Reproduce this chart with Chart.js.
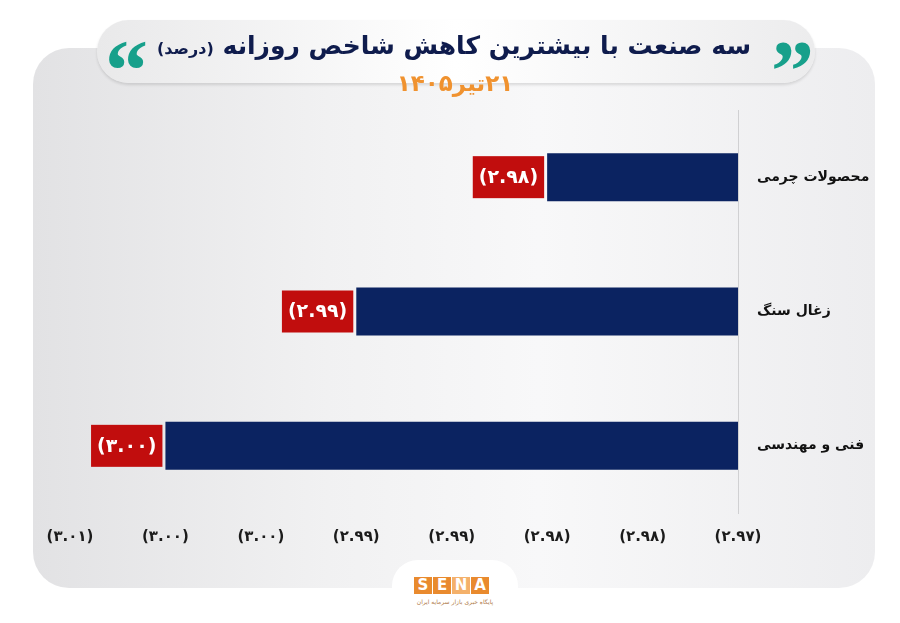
<!DOCTYPE html>
<html lang="fa">
<head>
<meta charset="utf-8">
<title>سه صنعت با بیشترین کاهش شاخص روزانه</title>
<script src="https://cdn.jsdelivr.net/npm/chart.js@4.4.1/dist/chart.umd.min.js"></script>
<style>
  html, body { margin: 0; padding: 0; background: #ffffff; }
  #page { position: relative; width: 900px; height: 623px; overflow: hidden; font-family: "DejaVu Sans", sans-serif; }
  #card {
    position: absolute; left: 33px; top: 48px; width: 842px; height: 540px;
    border-radius: 36px;
    background: linear-gradient(90deg, #e2e2e4 0%, #f1f1f2 35%, #f8f8f9 60%, #ededef 100%);
  }
  #chartBox { position: absolute; left: 0; top: 0; width: 900px; height: 623px; z-index: 1; }
  #titlePill {
    position: absolute; left: 97px; top: 20px; width: 718px; height: 63px; z-index: 2;
    border-radius: 32px;
    background: linear-gradient(90deg, #e9e9ea 0%, #ffffff 50%, #ececed 100%);
    box-shadow: 0 2px 3px rgba(0,0,0,0.12);
  }
  #title {
    position: absolute; left: 150px; width: 608px; top: 31px; z-index: 3;
    direction: rtl; text-align: center; white-space: nowrap;
    font-weight: bold; font-size: 25px; color: #0f1c4d;
  }
  #title small { font-size: 16px; font-weight: bold; }
  #date {
    position: absolute; left: 300px; width: 310px; top: 70px; z-index: 3;
    direction: rtl; text-align: center; font-weight: bold; font-size: 23px; color: #f0922f;
  }
  .quote {
    position: absolute; z-index: 3; font-family: "Liberation Serif", serif; font-weight: bold;
    font-size: 86px; line-height: 86px; color: #17a08b; top: 28px;
  }
  #qLeft { left: 105px; }
  #qRight { left: 771px; }
  #logoTab {
    position: absolute; left: 392px; top: 560px; width: 126px; height: 70px; z-index: 2;
    background: #ffffff; border-radius: 26px 26px 0 0;
  }
  #sena { position: absolute; left: 22px; top: 17px; display: flex; gap: 1px; }
  #sena span {
    width: 18px; height: 17px; background: #e98a2e; color: #fff;
    font: bold 15px "DejaVu Sans", sans-serif; text-align: center; line-height: 17px;
  }
  #sena span.light { background: #f4b16b; }
  #senaSub {
    position: absolute; left: 10px; width: 106px; top: 38px; direction: rtl; text-align: center;
    font-size: 6px; color: #b07a4a;
  }
</style>
</head>
<body>
<div id="page">
  <div id="card"></div>
  <div id="chartBox"><canvas id="chart"></canvas></div>
  <div id="titlePill"></div>
  <div class="quote" id="qLeft">&ldquo;</div>
  <div class="quote" id="qRight">&rdquo;</div>
  <div id="title">سه صنعت با بیشترین کاهش شاخص روزانه <small>(درصد)</small></div>
  <div id="date">۲۱تیر۱۴۰۵</div>
  <div id="logoTab">
    <div id="sena"><span>S</span><span>E</span><span class="light">N</span><span>A</span></div>
    <div id="senaSub">پایگاه خبری بازار سرمایه ایران</div>
  </div>
</div>
<script>
// داده‌ها
const industries = ['محصولات چرمی', 'زغال سنگ', 'فنی و مهندسی'];
const changes = [-2.98, -2.99, -3.00];
const tickLabels = ['(۳.۰۱)', '(۳.۰۰)', '(۳.۰۰)', '(۲.۹۹)', '(۲.۹۹)', '(۲.۹۸)', '(۲.۹۸)', '(۲.۹۷)'];
const xMin = -3.005;
const xMax = -2.97;
const xStep = 0.005;

const faDigits = '۰۱۲۳۴۵۶۷۸۹';
const toFa = s => s.replace(/[0-9]/g, d => faDigits[d]);

// برچسب قرمز کنار هر میله
const valueBoxes = {
    id: 'valueBoxes',
    afterDatasetsDraw(chart) {
        const ctx = chart.ctx;
        const meta = chart.getDatasetMeta(0);
        ctx.save();
        ctx.font = 'bold 19px "DejaVu Sans", sans-serif';
        ctx.textAlign = 'center';
        ctx.textBaseline = 'middle';
        meta.data.forEach((bar, i) => {
            const text = '(' + toFa(Math.abs(changes[i]).toFixed(2)) + ')';
            const w = ctx.measureText(text).width + 12;
            const h = 42;
            const right = bar.x - 3;
            ctx.fillStyle = '#c10d0d';
            ctx.fillRect(right - w, bar.y - h / 2, w, h);
            ctx.fillStyle = '#ffffff';
            ctx.fillText(text, right - w / 2, bar.y + 1);
        });
        ctx.restore();
    }
};

const chart = new Chart(document.getElementById('chart'), {
    type: 'bar',
    data: {
        labels: industries,
        datasets: [{
            data: changes,
            base: xMax,
            backgroundColor: '#0b2361',
            categoryPercentage: 1,
            barPercentage: 0.357
        }]
    },
    options: {
        indexAxis: 'y',
        responsive: true,
        maintainAspectRatio: false,
        animation: false,
        layout: { padding: { left: 70, top: 110, bottom: 60, right: 0 } },
        plugins: {
            legend: { display: false },
            tooltip: { enabled: false }
        },
        scales: {
            x: {
                min: xMin,
                max: xMax,
                grid: { display: false },
                border: { display: false },
                afterFit: scale => { scale.height = 50; },
                ticks: {
                    stepSize: xStep,
                    autoSkip: false,
                    maxRotation: 0,
                    padding: 7,
                    color: '#1b1b1b',
                    font: { family: '"DejaVu Sans", sans-serif', size: 15, weight: 'bold' },
                    callback: (value, index) => tickLabels[index]
                }
            },
            y: {
                position: 'right',
                grid: { display: false, drawTicks: false },
                border: { display: true, color: '#d0d0d2', width: 1 },
                afterFit: scale => { scale.width = 162; },
                ticks: {
                    padding: 19,
                    color: '#111111',
                    font: { family: '"DejaVu Sans", sans-serif', size: 14, weight: 'bold' }
                }
            }
        }
    },
    plugins: [valueBoxes]
});
</script>
</body>
</html>
